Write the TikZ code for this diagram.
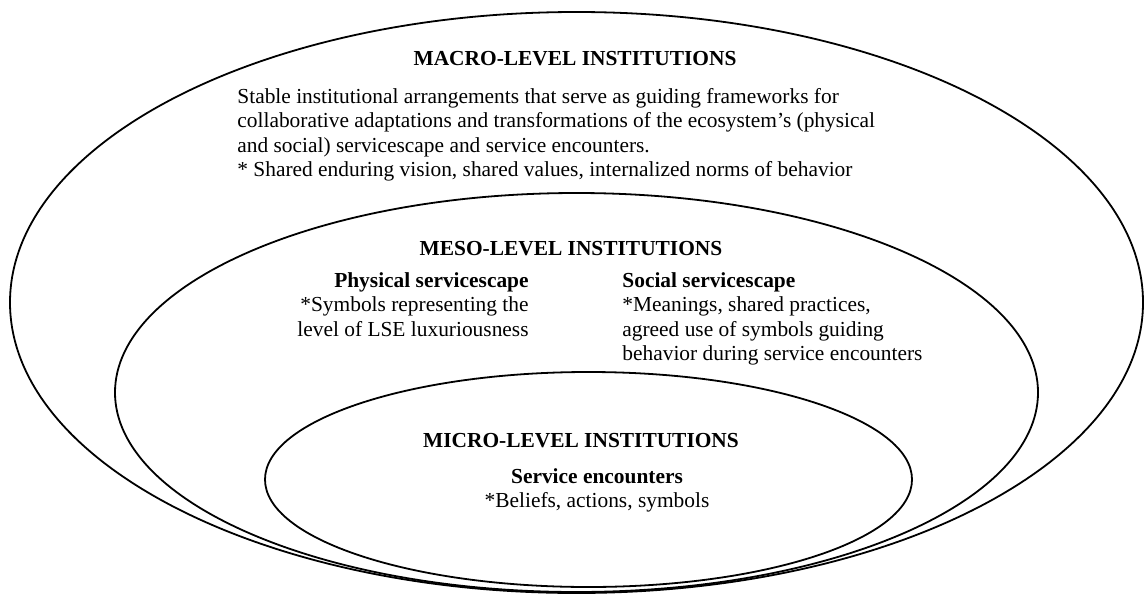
\documentclass[tikz,border=0pt]{standalone}
\usepackage{fontspec}
\setmainfont{Liberation Serif}
\usepackage{tikz}
\usetikzlibrary{positioning}
\tikzset{
  ring/.style={draw=black, line width=0.9pt},
  heading/.style={font=\fontsize{10.7}{12.25}\selectfont\bfseries, inner sep=0pt},
  body/.style={inner sep=0pt, font=\fontsize{10.7}{12.25}\selectfont}
}

\begin{document}
\begin{tikzpicture}[x=0.5pt, y=-0.5pt]
        \useasboundingbox (0,0) rectangle (1145,594);
        % the three nested levels
        \draw[ring] (576.5,302.5) ellipse (566.5 and 290.5);
        \draw[ring] (576.5,392.5) ellipse (461.5 and 199.5);
        \draw[ring] (588.5,479.5) ellipse (323.5 and 107.5);
        % macro level (multi-line nodes sit on the baseline of their last line)
        \node[heading, anchor=base] (macrotitle) at (575,65) {MACRO-LEVEL INSTITUTIONS};
        \node[body, align=left, anchor=base west] (macrotext) at (237,176.5)
          {Stable institutional arrangements that serve as guiding frameworks for\\
           collaborative adaptations and transformations of the ecosystem's (physical\\
           and social) servicescape and service encounters.\\
           * Shared enduring vision, shared values, internalized norms of behavior};
        % meso level
        \node[heading, anchor=base] (mesotitle) at (571,255) {MESO-LEVEL INSTITUTIONS};
        \node[body, align=right, anchor=base east] (physical) at (529,336)
          {\textbf{Physical servicescape}\\
           *Symbols representing the\\
           level of LSE luxuriousness};
        \node[body, align=left, anchor=base west] (social) at (622,360.5)
          {\textbf{Social servicescape}\\
           *Meanings, shared practices,\\
           agreed use of symbols guiding\\
           behavior during service encounters};
        % micro level
        \node[heading, anchor=base] (microtitle) at (581,447) {MICRO-LEVEL INSTITUTIONS};
        \node[body, align=center, anchor=base] (encounters) at (597,507.5)
          {\textbf{Service encounters}\\
           *Beliefs, actions, symbols};
      \end{tikzpicture}
\end{document}
